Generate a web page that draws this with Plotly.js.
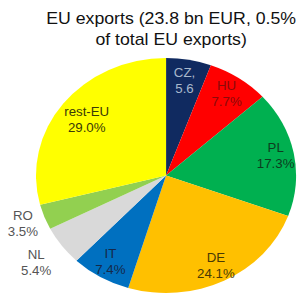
<!DOCTYPE html>
<html>
<head>
<meta charset="utf-8">
<script src="https://cdn.plot.ly/plotly-3.0.1.min.js"></script>
<style>
  html, body { margin: 0; padding: 0; background: #fff; overflow: hidden; }
  #chart { width: 271px; height: 295px; transform: scaleX(1.107); transform-origin: 0 0; }
</style>
</head>
<body>
<div id="chart"></div>
<script>
// Data
const countries = ["CZ", "HU", "PL", "DE", "IT", "NL", "RO", "rest-EU"];
const shares = [5.6, 7.7, 17.3, 24.1, 7.4, 5.4, 3.5, 29.0];
const displayNames = ["CZ,", "HU", "PL", "DE", "IT", "NL", "RO", "rest-EU"];
const valueSuffix = ["", "%", "%", "%", "%", "%", "%", "%"];
const titleLines = ["EU exports (23.8 bn EUR, 0.5%", "of total EU exports)"];

// Styles
const sliceColors = ["#102a60", "#ff0000", "#00b050", "#ffc000", "#0070c0", "#d9d9d9", "#92d050", "#ffff00"];
const textColors = ["#a8b8cc", "#8a0a0a", "#0d3d1f", "#4a3a05", "#15294a", "#555555", "#555555", "#3a3a08"];
// radial position of each label, as a fraction of the pie radius
const labelRadius = [0.82, 0.84, 0.86, 0.86, 0.85, 1.24, 1.17, 0.77];

const W = 271, H = 295;
const dom = { x: [0.12, 0.987], y: [0.0068, 0.8034] };
const font = "Liberation Sans, Arial, sans-serif";

const texts = displayNames.map((n, i) => n + "<br>" + shares[i].toFixed(1) + valueSuffix[i]);

const trace = {
  type: "pie",
  labels: countries,
  values: shares,
  textinfo: "none",
  sort: false,
  direction: "clockwise",
  rotation: 0,
  marker: { colors: sliceColors, line: { width: 0 } },
  domain: dom,
  showlegend: false,
  hoverinfo: "none"
};

// label placement along each slice's bisector
const cx = (dom.x[0] + dom.x[1]) / 2 * W;
const cy = H - (dom.y[0] + dom.y[1]) / 2 * H;
const r = Math.min((dom.x[1] - dom.x[0]) * W, (dom.y[1] - dom.y[0]) * H) / 2;
const total = shares.reduce((a, b) => a + b, 0);
let cum = 0;
const annotations = shares.map((v, i) => {
  const mid = (cum + v / 2) / total;
  cum += v;
  const th = 2 * Math.PI * mid;
  const px = cx + labelRadius[i] * r * Math.sin(th);
  const py = cy - labelRadius[i] * r * Math.cos(th);
  return {
    text: texts[i],
    x: px / W, y: 1 - py / H,
    xref: "paper", yref: "paper",
    xanchor: "center", yanchor: "middle",
    showarrow: false,
    font: { family: font, size: 12, color: textColors[i] }
  };
});

const layout = {
  width: W,
  height: H,
  margin: { l: 0, r: 0, t: 0, b: 0 },
  paper_bgcolor: "#ffffff",
  title: {
    text: titleLines.join("<br>"),
    font: { family: font, size: 16, color: "#111111" },
    x: 0.5705,
    xanchor: "center",
    xref: "paper",
    y: 1 - 24 / 295,
    yref: "container",
    yanchor: "top"
  },
  annotations: annotations,
  showlegend: false
};

Plotly.newPlot("chart", [trace], layout, { staticPlot: true, displayModeBar: false });
</script>
</body>
</html>
